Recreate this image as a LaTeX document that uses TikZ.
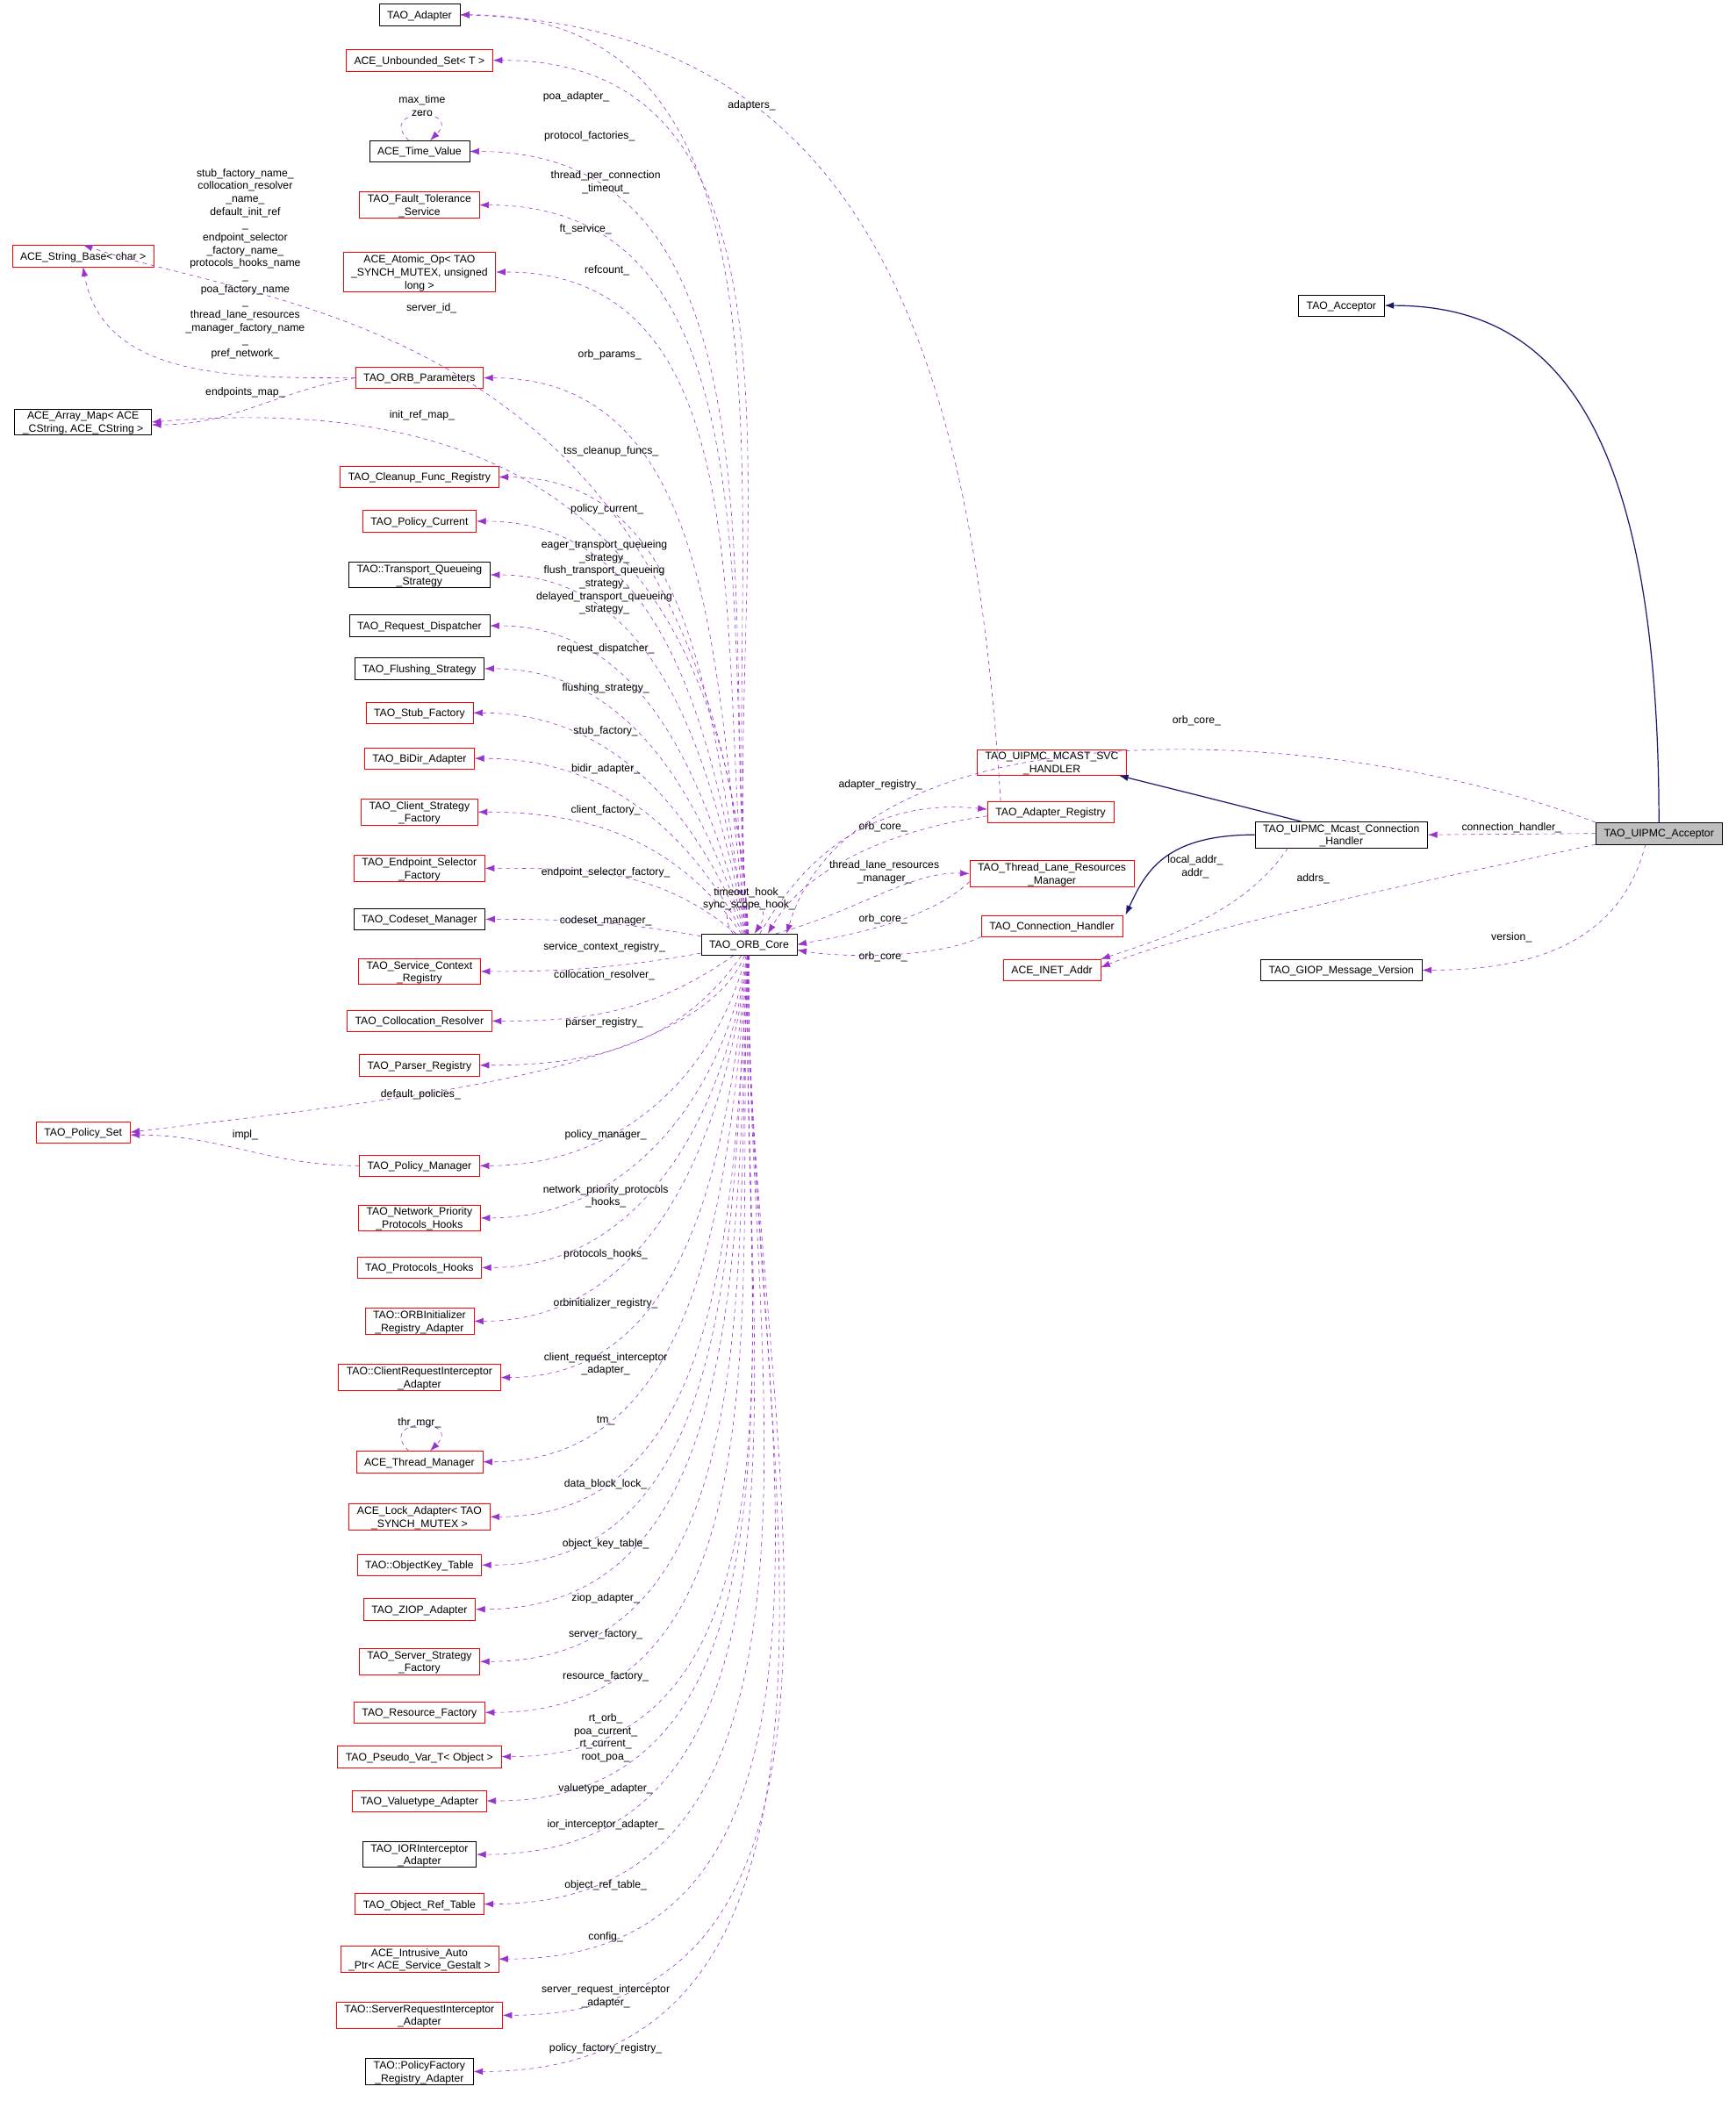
\documentclass[tikz,border=0pt]{standalone}
\usepackage{fontspec}
\setmainfont{Liberation Sans}
\usetikzlibrary{arrows.meta}
\definecolor{dpur}{HTML}{9A32CD}
\definecolor{navy}{HTML}{191970}
\begin{document}
\begin{tikzpicture}[x=1pt,y=1pt,font=\fontsize{8}{9.6}\selectfont,
 bx/.style={draw,rectangle,inner xsep=6pt,inner ysep=2pt,align=center,minimum height=16pt,text depth=0pt},
 rb/.style={bx,draw=red},
 bb/.style={bx,draw=black},
 dep/.style={draw=dpur,dashed,-{Latex[length=7pt,width=5pt]}},
 inh/.style={draw=navy,thick,-{Latex[length=7pt,width=5pt]}},
 lb/.style={align=center,inner sep=0pt}]
\useasboundingbox (0,0) rectangle (1295,-1568);
% left column
\node[bb] (ad) at (313,-11) {TAO\_Adapter};
\node[rb] (us) at (313,-45) {ACE\_Unbounded\_Set\textless{} T \textgreater};
\node[bb] (tv) at (313,-113) {ACE\_Time\_Value};
\node[rb] (ft) at (313,-153) {TAO\_Fault\_Tolerance\\\_Service};
\node[rb] (ao) at (313,-203) {ACE\_Atomic\_Op\textless{} TAO\\\_SYNCH\_MUTEX, unsigned\\long \textgreater};
\node[rb] (op) at (313,-282) {TAO\_ORB\_Parameters};
\node[rb] (cf) at (313,-356) {TAO\_Cleanup\_Func\_Registry};
\node[rb] (pc) at (313,-389) {TAO\_Policy\_Current};
\node[bb] (tq) at (313,-429) {TAO::Transport\_Queueing\\\_Strategy};
\node[bb] (rd) at (313,-467) {TAO\_Request\_Dispatcher};
\node[bb] (fs) at (313,-499) {TAO\_Flushing\_Strategy};
\node[rb] (sf) at (313,-532) {TAO\_Stub\_Factory};
\node[rb] (bd) at (313,-566) {TAO\_BiDir\_Adapter};
\node[rb] (cs) at (313,-606) {TAO\_Client\_Strategy\\\_Factory};
\node[rb] (es) at (313,-648) {TAO\_Endpoint\_Selector\\\_Factory};
\node[bb] (cm) at (313,-686) {TAO\_Codeset\_Manager};
\node[rb] (sc) at (313,-725) {TAO\_Service\_Context\\\_Registry};
\node[rb] (cr) at (313,-762) {TAO\_Collocation\_Resolver};
\node[rb] (pr) at (313,-795) {TAO\_Parser\_Registry};
\node[rb] (pm) at (313,-870) {TAO\_Policy\_Manager};
\node[rb] (np) at (313,-909) {TAO\_Network\_Priority\\\_Protocols\_Hooks};
\node[rb] (ph) at (313,-946) {TAO\_Protocols\_Hooks};
\node[rb] (oi) at (313,-986) {TAO::ORBInitializer\\\_Registry\_Adapter};
\node[rb] (ci) at (313,-1028) {TAO::ClientRequestInterceptor\\\_Adapter};
\node[rb] (tm) at (313,-1091) {ACE\_Thread\_Manager};
\node[rb] (la) at (313,-1132) {ACE\_Lock\_Adapter\textless{} TAO\\\_SYNCH\_MUTEX \textgreater};
\node[rb] (ok) at (313,-1168) {TAO::ObjectKey\_Table};
\node[rb] (zi) at (313,-1201) {TAO\_ZIOP\_Adapter};
\node[rb] (ss) at (313,-1240) {TAO\_Server\_Strategy\\\_Factory};
\node[rb] (rf) at (313,-1278) {TAO\_Resource\_Factory};
\node[rb] (pv) at (313,-1311) {TAO\_Pseudo\_Var\_T\textless{} Object \textgreater};
\node[rb] (va) at (313,-1344) {TAO\_Valuetype\_Adapter};
\node[bb] (ii) at (313,-1384) {TAO\_IORInterceptor\\\_Adapter};
\node[rb] (ot) at (313,-1421) {TAO\_Object\_Ref\_Table};
\node[rb] (ia) at (313,-1462) {ACE\_Intrusive\_Auto\\\_Ptr\textless{} ACE\_Service\_Gestalt \textgreater};
\node[rb] (si) at (313,-1504) {TAO::ServerRequestInterceptor\\\_Adapter};
\node[bb] (pf) at (313,-1546) {TAO::PolicyFactory\\\_Registry\_Adapter};
% far left
\node[rb] (sb) at (62,-191) {ACE\_String\_Base\textless{} char \textgreater};
\node[bb] (am) at (62,-315) {ACE\_Array\_Map\textless{} ACE\\\_CString, ACE\_CString \textgreater};
\node[rb] (ps) at (62,-845) {TAO\_Policy\_Set};
% center
\node[bb] (core) at (559,-705) {TAO\_ORB\_Core};
\node[rb] (areg) at (784,-606) {TAO\_Adapter\_Registry};
\node[rb] (tl) at (785,-652) {TAO\_Thread\_Lane\_Resources\\\_Manager};
\node[rb] (ch) at (785,-691) {TAO\_Connection\_Handler};
\node[rb] (svc) at (785,-569) {TAO\_UIPMC\_MCAST\_SVC\\\_HANDLER};
\node[rb] (inet) at (785,-724) {ACE\_INET\_Addr};
\node[bb] (mch) at (1001,-623) {TAO\_UIPMC\_Mcast\_Connection\\\_Handler};
\node[bb] (gmv) at (1001,-724) {TAO\_GIOP\_Message\_Version};
\node[bb] (tacc) at (1001,-228) {TAO\_Acceptor};
\node[bb,fill=black!25] (acc) at (1238,-622) {TAO\_UIPMC\_Acceptor};
% edges core -> left column
\foreach \t/\o in {ad/95,us/95,tv/95,ft/95,ao/97,op/98,cf/100,pc/100,tq/102,rd/105,fs/108,sf/112,bd/118,cs/125,es/140}
  \draw[dep] (core) to[out=\o,in=0] (\t.east);
\foreach \t/\o in {cm/170,sc/190,cr/215,pr/235,pm/255,np/260,ph/262,oi/263,ci/264,tm/265,la/266,ok/266,zi/267,ss/267,rf/267,pv/268,va/268,ii/268,ot/269,ia/269,si/269,pf/269}
  \draw[dep] (core) to[out=\o,in=0] (\t.east);
\draw[dep] (core) .. controls (530,-240) and (200,-230) .. (sb.north);
\draw[dep] (core) .. controls (540,-330) and (300,-300) .. (am.east);
\draw[dep] (core) .. controls (520,-800) and (300,-820) .. (ps.east);
\draw[dep] (op.west) to[out=180,in=-80] (sb.south);
\draw[dep] (op.west) to[out=190,in=0] ([yshift=-2]am.east);
\draw[dep] (pm.west) to[out=180,in=0] ([yshift=-2]ps.east);
% self loops
\draw[dep] ([xshift=-8]tv.north) .. controls +(-25,25) and +(25,25) .. ([xshift=8]tv.north);
\draw[dep] ([xshift=-8]tm.north) .. controls +(-25,25) and +(25,25) .. ([xshift=8]tm.north);
\draw[dep] ([xshift=-12]core.north) .. controls +(-20,30) and +(20,30) .. ([xshift=4]core.north);
% registry edges
\draw[dep] ([xshift=10]areg.north west) .. controls (725,-250) and (640,-20) .. (ad.east);
\draw[dep] ([xshift=8]core.north) .. controls (600,-640) and (650,-595) .. ([yshift=2]areg.west);
\draw[dep] ([yshift=-3]areg.west) .. controls (660,-620) and (600,-650) .. ([xshift=14]core.north);
\draw[dep] ([xshift=20]core.north) .. controls (640,-680) and (680,-650) .. (tl.west);
\draw[dep] ([yshift=-6]tl.west) .. controls (690,-690) and (620,-700) .. (core.east);
\draw[dep] (ch.south west) .. controls (700,-715) and (630,-715) .. ([yshift=-4]core.east);
% acceptor edges
\draw[dep] (acc.north west) .. controls (1000,-540) and (640,-520) .. ([xshift=28]core.north);
\draw[dep] (acc.west) -- (mch.east);
\draw[dep] ([xshift=-10]acc.south) .. controls (1210,-700) and (1150,-724) .. (gmv.east);
\draw[dep] (acc.south west) .. controls (1100,-650) and (900,-690) .. ([yshift=2]inet.east);
\draw[dep] ([xshift=-40]mch.south) .. controls (930,-680) and (870,-700) .. (inet.north east);
\draw[inh] (acc.north) .. controls (1238,-300) and (1150,-228) .. (tacc.east);
\draw[inh] ([xshift=-30]mch.north) .. controls (920,-600) and (880,-590) .. ([xshift=50]svc.south);
\draw[inh] (mch.west) .. controls (870,-623) and (855,-650) .. ([xshift=55]ch.north);
% labels
\node[lb] (l1) at (430,-72) {poa\_adapter\_};
\node[lb] (l2) at (440,-102) {protocol\_factories\_};
\node[lb] (l3) at (452,-136) {thread\_per\_connection\\\_timeout\_};
\node[lb] (l4) at (437,-171) {ft\_service\_};
\node[lb] (l5) at (453,-202) {refcount\_};
\node[lb] (l6) at (322,-230) {server\_id\_};
\node[lb] (l7) at (183,-197) {stub\_factory\_name\_\\collocation\_resolver\\\_name\_\\default\_init\_ref\\\_\\endpoint\_selector\\\_factory\_name\_\\protocols\_hooks\_name\\\_\\poa\_factory\_name\\\_\\thread\_lane\_resources\\\_manager\_factory\_name\\\_\\pref\_network\_};
\node[lb] (l8) at (455,-265) {orb\_params\_};
\node[lb] (l9) at (315,-310) {init\_ref\_map\_};
\node[lb] (l10) at (183,-293) {endpoints\_map\_};
\node[lb] (l11) at (456,-337) {tss\_cleanup\_funcs\_};
\node[lb] (l12) at (453,-380) {policy\_current\_};
\node[lb] (l13) at (451,-431) {eager\_transport\_queueing\\\_strategy\_\\flush\_transport\_queueing\\\_strategy\_\\delayed\_transport\_queueing\\\_strategy\_};
\node[lb] (l14) at (452,-484) {request\_dispatcher\_};
\node[lb] (l15) at (452,-514) {flushing\_strategy\_};
\node[lb] (l16) at (452,-546) {stub\_factory\_};
\node[lb] (l17) at (452,-574) {bidir\_adapter\_};
\node[lb] (l18) at (452,-605) {client\_factory\_};
\node[lb] (l19) at (452,-651) {endpoint\_selector\_factory\_};
\node[lb] (l20) at (452,-687) {codeset\_manager\_};
\node[lb] (l21) at (451,-707) {service\_context\_registry\_};
\node[lb] (l22) at (451,-728) {collocation\_resolver\_};
\node[lb] (l23) at (451,-763) {parser\_registry\_};
\node[lb] (l24) at (314,-817) {default\_policies\_};
\node[lb] (l25) at (183,-847) {impl\_};
\node[lb] (l26) at (452,-847) {policy\_manager\_};
\node[lb] (l27) at (452,-893) {network\_priority\_protocols\\\_hooks\_};
\node[lb] (l28) at (452,-936) {protocols\_hooks\_};
\node[lb] (l29) at (452,-973) {orbinitializer\_registry\_};
\node[lb] (l30) at (452,-1018) {client\_request\_interceptor\\\_adapter\_};
\node[lb] (l31) at (313,-1062) {thr\_mgr\_};
\node[lb] (l32) at (452,-1060) {tm\_};
\node[lb] (l33) at (452,-1108) {data\_block\_lock\_};
\node[lb] (l34) at (452,-1152) {object\_key\_table\_};
\node[lb] (l35) at (452,-1193) {ziop\_adapter\_};
\node[lb] (l36) at (452,-1220) {server\_factory\_};
\node[lb] (l37) at (452,-1251) {resource\_factory\_};
\node[lb] (l38) at (452,-1297) {rt\_orb\_\\poa\_current\_\\rt\_current\_\\root\_poa\_};
\node[lb] (l39) at (452,-1335) {valuetype\_adapter\_};
\node[lb] (l40) at (452,-1362) {ior\_interceptor\_adapter\_};
\node[lb] (l41) at (452,-1407) {object\_ref\_table\_};
\node[lb] (l42) at (452,-1446) {config\_};
\node[lb] (l43) at (452,-1490) {server\_request\_interceptor\\\_adapter\_};
\node[lb] (l44) at (452,-1529) {policy\_factory\_registry\_};
\node[lb] (l45) at (315,-79) {max\_time\\zero};
\node[lb] (l46) at (559,-671) {timeout\_hook\_\\sync\_scope\_hook\_};
\node[lb] (l47) at (561,-79) {adapters\_};
\node[lb] (l48) at (657,-586) {adapter\_registry\_};
\node[lb] (l49) at (659,-617) {orb\_core\_};
\node[lb] (l50) at (660,-651) {thread\_lane\_resources\\\_manager\_};
\node[lb] (l51) at (659,-686) {orb\_core\_};
\node[lb] (l52) at (659,-714) {orb\_core\_};
\node[lb] (l53) at (893,-538) {orb\_core\_};
\node[lb] (l54) at (1128,-618) {connection\_handler\_};
\node[lb] (l55) at (892,-647) {local\_addr\_\\addr\_};
\node[lb] (l56) at (980,-656) {addrs\_};
\node[lb] (l57) at (1128,-700) {version\_};
\end{tikzpicture}
\end{document}
